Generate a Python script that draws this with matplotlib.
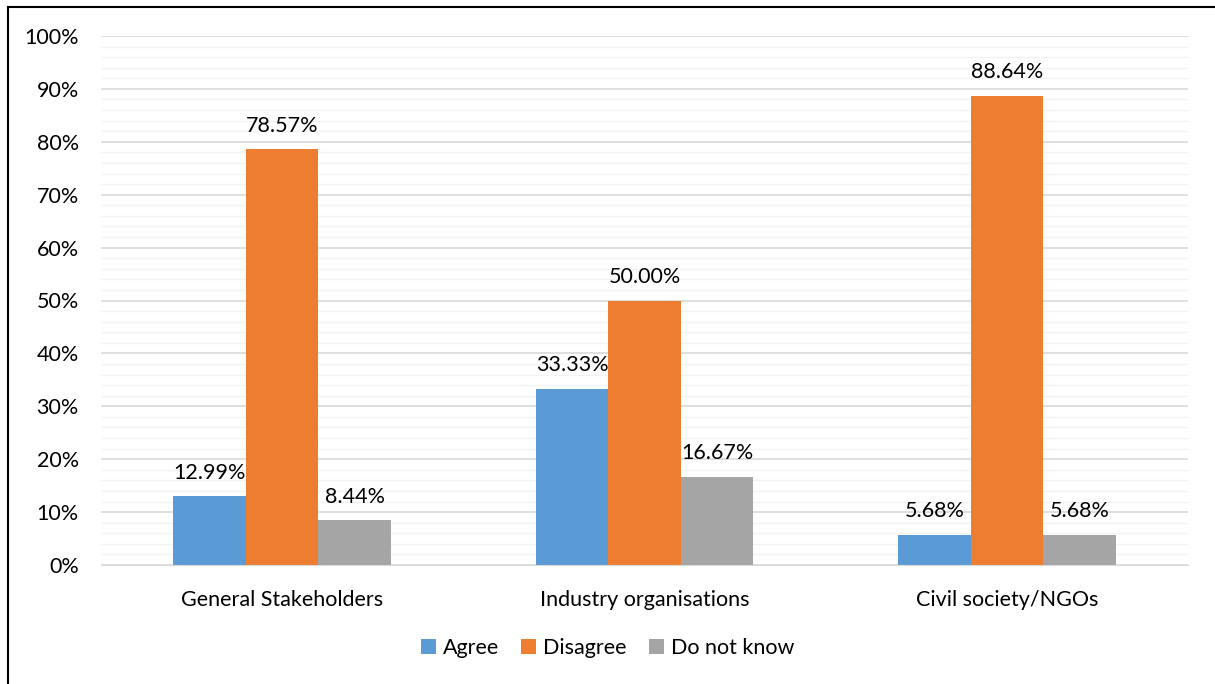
import matplotlib
matplotlib.use("Agg")
import matplotlib.pyplot as plt
import numpy as np
from matplotlib.lines import Line2D

categories = ["General Stakeholders", "Industry organisations", "Civil society/NGOs"]
series_names = ["Agree", "Disagree", "Do not know"]
agree = [12.99, 33.33, 5.68]
disagree = [78.57, 50.00, 88.64]
dont_know = [8.44, 16.67, 5.68]
colors = ["#5B9BD5", "#ED7D31", "#A5A5A5"]

plt.rcParams['font.family'] = ['Lato', 'DejaVu Sans']

W, H = 1215, 684
fig = plt.figure(figsize=(W/100, H/100), dpi=100)
ax = fig.add_axes([101/W, 1-565/H, (1188-101)/W, (565-36)/H])

FS = 15.5
x = np.arange(len(categories))
bw = 0.2
for i, (vals, name, c) in enumerate(zip([agree, disagree, dont_know], series_names, colors)):
    pos = x + (i-1)*bw
    ax.bar(pos, vals, width=bw, color=c, label=name, zorder=3)
    for p, v in zip(pos, vals):
        ax.text(p, v + 2.6, f"{v:.2f}%", ha='center', va='bottom', fontsize=FS, color='#000000')

ax.set_xlim(-0.5, 2.5)
ax.set_ylim(0, 100)
ax.set_yticks(np.arange(0, 101, 10))
ax.set_yticklabels([f"{t}%" for t in range(0, 101, 10)], fontsize=FS)
ax.set_yticks(np.arange(0, 101, 2), minor=True)
ax.set_xticks(x)
ax.set_xticklabels(categories, fontsize=FS)
ax.tick_params(axis='y', length=0, pad=16)
ax.tick_params(axis='x', length=0, pad=18)
ax.tick_params(axis='y', which='minor', length=0)
ax.grid(axis='y', which='major', color='#D9D9D9', linewidth=1.2, zorder=0)
ax.grid(axis='y', which='minor', color='#F2F2F2', linewidth=1.0, zorder=0)
for s in ['top', 'right', 'left']:
    ax.spines[s].set_visible(False)
ax.spines['bottom'].set_color('#D9D9D9')
ax.spines['bottom'].set_zorder(4)

ax.legend(loc='center', bbox_to_anchor=(0.5, 1-648/H), bbox_transform=fig.transFigure,
          ncol=3, frameon=False, fontsize=FS, handlelength=0.7, handleheight=0.7,
          handletextpad=0.3, columnspacing=1.05)

# partial outer border (top and left)
fig.add_artist(Line2D([8/W, 1.0], [1-7/H, 1-7/H], color='black', linewidth=1.5, transform=fig.transFigure))
fig.add_artist(Line2D([8/W, 8/W], [0, 1-7/H], color='black', linewidth=1.5, transform=fig.transFigure))

fig.savefig("out.png", dpi=100)
